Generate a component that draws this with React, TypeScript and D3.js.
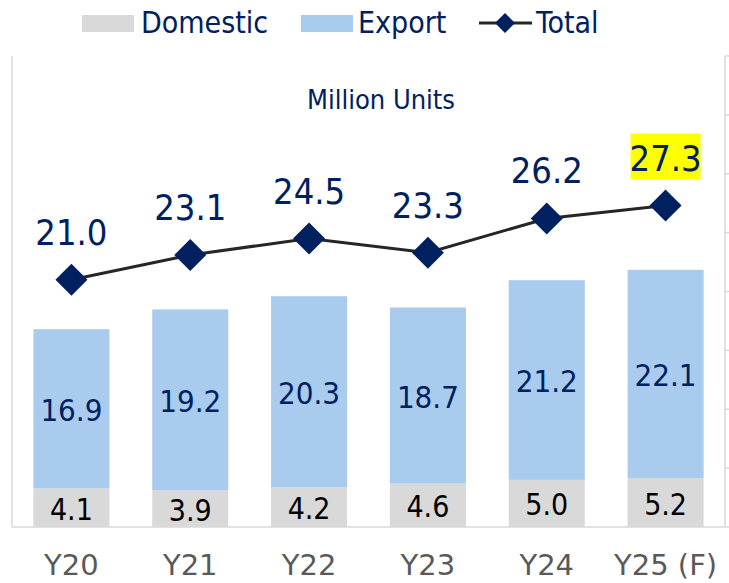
import React from "react";
import * as d3 from "d3";

const categories = ["Y20", "Y21", "Y22", "Y23", "Y24", "Y25 (F)"];
const domestic = [4.1, 3.9, 4.2, 4.6, 5.0, 5.2];
const exportVals = [16.9, 19.2, 20.3, 18.7, 21.2, 22.1];
const totals = [21.0, 23.1, 24.5, 23.3, 26.2, 27.3];
const highlightIndex = 5;

const W = 729;
const H = 583;
const NAVY = "#002060";
const COND = "'DejaVu Sans Condensed', 'DejaVu Sans', sans-serif";
const WIDE = "'DejaVu Sans', Verdana, sans-serif";

export default function App() {
  const left = 12;
  const right = 725;
  const top = 56;
  const bottom = 527;

  const x = d3
    .scaleBand<string>()
    .domain(categories)
    .range([left, right])
    .paddingInner(0.36)
    .paddingOuter(0.18);
  const yBar = d3.scaleLinear().domain([0, 50]).range([bottom, top]);
  const yLine = d3.scaleLinear().domain([0, 40]).range([bottom, top]);

  const cx = (c: string) => (x(c) ?? 0) + x.bandwidth() / 2;

  const line = d3
    .line<number>()
    .x((_, i) => cx(categories[i]))
    .y((d) => yLine(d));

  const diamond = (px: number, py: number, r: number) =>
    `M${px},${py - r}L${px + r},${py}L${px},${py + r}L${px - r},${py}Z`;

  const rightTicks = yLine.ticks(8);

  return (
    <svg
      width={W}
      height={H}
      style={{ position: "absolute", left: 0, top: 0, background: "#fff" }}
    >
      {/* Legend */}
      <g>
        <rect x={82} y={15} width={52} height={17} fill="#d9d9d9" />
        <text x={141} y={33} fontFamily={COND} fontSize={30} fill={NAVY}>
          Domestic
        </text>
        <rect x={301} y={15} width={52} height={17} fill="#a9cbee" />
        <text x={358} y={33} fontFamily={COND} fontSize={30} fill={NAVY}>
          Export
        </text>
        <line x1={479} x2={532} y1={23} y2={23} stroke="#262626" strokeWidth={3} />
        <path d={diamond(505, 23, 10)} fill={NAVY} />
        <text x={536} y={33} fontFamily={COND} fontSize={30} fill={NAVY}>
          Total
        </text>
      </g>

      {/* Axes frame */}
      <line x1={left} x2={left} y1={top} y2={bottom} stroke="#d9d9d9" strokeWidth={1.5} />
      <line x1={left} x2={right} y1={bottom} y2={bottom} stroke="#d9d9d9" strokeWidth={1.5} />
      <line x1={right} x2={right} y1={top} y2={bottom} stroke="#d9d9d9" strokeWidth={1.5} />
      {rightTicks.map((t) => (
        <line
          key={t}
          x1={right}
          x2={right + 6}
          y1={yLine(t)}
          y2={yLine(t)}
          stroke="#d9d9d9"
          strokeWidth={1.5}
        />
      ))}

      <text
        x={381}
        y={109}
        textAnchor="middle"
        fontFamily={COND}
        fontSize={27}
        fill={NAVY}
      >
        Million Units
      </text>

      {/* Bars */}
      {categories.map((c, i) => {
        const bx = x(c) ?? 0;
        const bw = x.bandwidth();
        const d0 = yBar(0);
        const d1 = yBar(domestic[i]);
        const e1 = yBar(domestic[i] + exportVals[i]);
        return (
          <g key={c}>
            <rect x={bx} y={d1} width={bw} height={d0 - d1} fill="#d9d9d9" />
            <rect x={bx} y={e1} width={bw} height={d1 - e1} fill="#a9cbee" />
            <text
              x={cx(c)}
              y={(d0 + d1) / 2 + 12}
              textAnchor="middle"
              fontFamily={COND}
              fontSize={30}
              fill="#000"
            >
              {domestic[i].toFixed(1)}
            </text>
            <text
              x={cx(c)}
              y={(d1 + e1) / 2 + 12}
              textAnchor="middle"
              fontFamily={COND}
              fontSize={31}
              fill={NAVY}
            >
              {exportVals[i].toFixed(1)}
            </text>
          </g>
        );
      })}

      {/* Total line */}
      <path d={line(totals) ?? ""} fill="none" stroke="#262626" strokeWidth={3} />
      {totals.map((t, i) => {
        const px = cx(categories[i]);
        const py = yLine(t);
        return (
          <g key={i}>
            <path d={diamond(px, py, 16)} fill={NAVY} />
            {i === highlightIndex && (
              <rect x={px - 35} y={py - 72} width={70} height={46} fill="#ffff00" />
            )}
            <text
              x={px}
              y={py - 35}
              textAnchor="middle"
              fontFamily={COND}
              fontSize={36}
              fill={NAVY}
            >
              {t.toFixed(1)}
            </text>
          </g>
        );
      })}

      {/* X labels */}
      {categories.map((c) => (
        <text
          key={c}
          x={cx(c)}
          y={575}
          textAnchor="middle"
          fontFamily={WIDE}
          fontSize={29}
          fill="#595959"
        >
          {c}
        </text>
      ))}
    </svg>
  );
}
